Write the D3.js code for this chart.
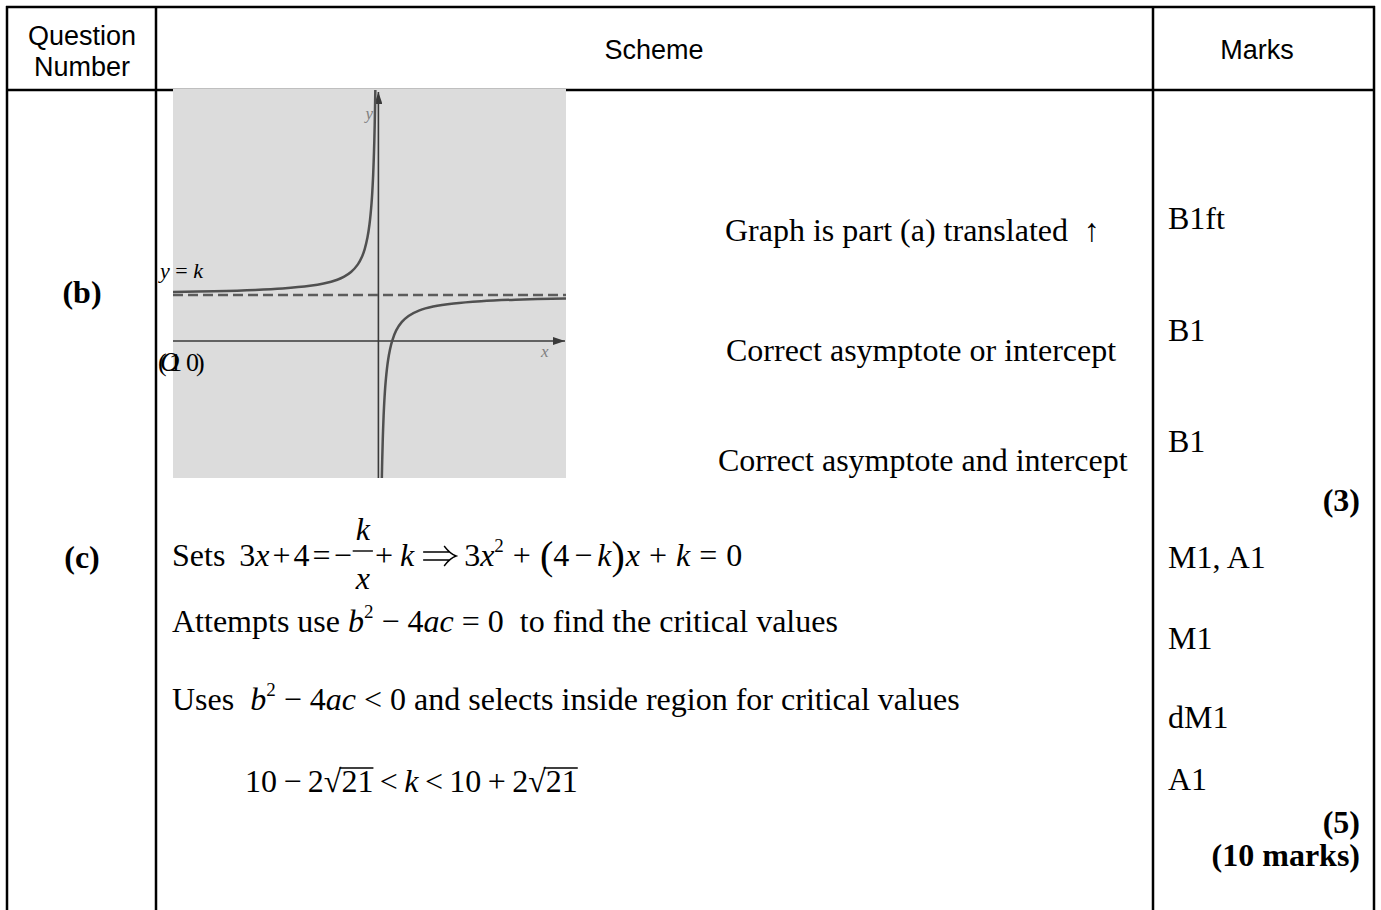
<!DOCTYPE html>
<html>
<head>
<meta charset="utf-8">
<script src="https://cdn.jsdelivr.net/npm/d3@7"></script>
<style>
  body { margin: 0; background: #fff; }
  text { white-space: pre; }
</style>
</head>
<body>
<script>
// ---- data ----
const headers = ['Scheme', 'Marks']
const questionHeader = ['Question', 'Number']
const parts = ['(b)', '(c)']

const schemeB = ['Graph is part (a) translated  \u2191', 'Correct asymptote or intercept', 'Correct asymptote and intercept']
const marksB = ['B1ft', 'B1', 'B1']
const marksC = ['M1, A1', 'M1', 'dM1', 'A1']
const totals = ['(3)', '(5)', '(10 marks)']

// y = k - k/x sketch (k = 1)
const leftX = [-15, -12, -9, -7, -5, -4, -3, -2.5, -2, -1.5, -1.2, -1, -0.8, -0.65, -0.5, -0.4, -0.32, -0.27, -0.224]
const leftY = [1.067, 1.083, 1.111, 1.143, 1.2, 1.25, 1.333, 1.4, 1.5, 1.667, 1.833, 2.0, 2.25, 2.54, 3.0, 3.5, 4.13, 4.7, 5.46]
const rightX = [0.251, 0.28, 0.32, 0.38, 0.45, 0.55, 0.7, 0.85, 1, 1.3, 1.7, 2.2, 3, 4, 5.5, 7.5, 10, 13.7]
const rightY = [-2.98, -2.57, -2.13, -1.63, -1.22, -0.82, -0.43, -0.18, 0, 0.23, 0.41, 0.545, 0.667, 0.75, 0.818, 0.867, 0.9, 0.927]
const asymK = 1

const w = 1381
const h = 910
const serif = '"Liberation Serif", "Times New Roman", serif'
const sans = '"Liberation Sans", Arial, sans-serif'
const bodySize = 32

const svg = d3.select('body')
  .append('svg')
  .attr('width', w)
  .attr('height', h)

// ---- table grid ----
const colEdges = [7, 156, 1153, 1374]
const rowEdges = [7, 90]

svg.selectAll('line.col')
  .data(colEdges)
  .enter()
  .append('line')
  .attr('x1', d => d).attr('x2', d => d)
  .attr('y1', 6).attr('y2', h)
  .attr('stroke', '#000').attr('stroke-width', 2.5)

svg.selectAll('line.row')
  .data(rowEdges)
  .enter()
  .append('line')
  .attr('x1', 6).attr('x2', 1375)
  .attr('y1', d => d).attr('y2', d => d)
  .attr('stroke', '#000').attr('stroke-width', 2.5)

// headers
svg.selectAll('text.qh')
  .data(questionHeader)
  .enter()
  .append('text')
  .attr('x', 82)
  .attr('y', (d, i) => 45 + i * 31)
  .attr('text-anchor', 'middle')
  .style('font-family', sans).style('font-size', '27px')
  .text(d => d)

svg.selectAll('text.hd')
  .data(headers)
  .enter()
  .append('text')
  .attr('x', (d, i) => i === 0 ? 654 : 1257)
  .attr('y', 59)
  .attr('text-anchor', 'middle')
  .style('font-family', sans).style('font-size', '27px')
  .text(d => d)

// part labels
svg.selectAll('text.part')
  .data(parts)
  .enter()
  .append('text')
  .attr('x', 82)
  .attr('y', (d, i) => i === 0 ? 303 : 568)
  .attr('text-anchor', 'middle')
  .style('font-family', serif).style('font-size', bodySize + 'px').style('font-weight', 'bold')
  .text(d => d)

// ---- graph ----
const gx = [173, 566]
const gy = [90, 478]
const xScale = d3.scaleLinear().domain([-15, 13.7]).range(gx)
const yScale = d3.scaleLinear().domain([-2.98, 5.46]).range([gy[1], gy[0]])

const graph = svg.append('g')
svg.append('clipPath').attr('id', 'gclip')
  .append('rect').attr('x', gx[0]).attr('y', gy[0] - 3).attr('width', gx[1] - gx[0]).attr('height', gy[1] - gy[0] + 3)

graph.append('rect')
  .attr('x', gx[0]).attr('y', gy[0] - 1)
  .attr('width', gx[1] - gx[0]).attr('height', gy[1] - gy[0] + 1)
  .attr('fill', '#dcdcdc')

svg.append('defs').append('marker')
  .attr('id', 'arr')
  .attr('viewBox', '0 0 12 8')
  .attr('refX', 12).attr('refY', 4)
  .attr('markerWidth', 12).attr('markerHeight', 8)
  .attr('markerUnits', 'userSpaceOnUse')
  .attr('orient', 'auto')
  .append('path').attr('d', 'M0,0L12,4L0,8Z').attr('fill', '#3a3a3a')

const xAxis = d3.axisBottom(xScale).ticks(0).tickSizeOuter(0)
const yAxis = d3.axisLeft(yScale).ticks(0).tickSizeOuter(0)

const xg = graph.append('g')
  .attr('transform', `translate(0, ${yScale(0)})`)
  .call(xAxis)
xg.select('.domain').attr('stroke', '#3a3a3a').attr('stroke-width', 1.6)
  .attr('d', `M${gx[0]},0H${gx[1] - 1}`).attr('marker-end', 'url(#arr)')

const yg = graph.append('g')
  .attr('transform', `translate(${xScale(0)}, 0)`)
  .call(yAxis)
yg.select('.domain').attr('stroke', '#3a3a3a').attr('stroke-width', 1.6)
  .attr('d', `M0,${gy[1]}V${gy[0] + 2}`).attr('marker-end', 'url(#arr)')

// asymptote
graph.append('line')
  .attr('x1', gx[0]).attr('x2', gx[1])
  .attr('y1', yScale(asymK)).attr('y2', yScale(asymK))
  .attr('stroke', '#5c5c5c').attr('stroke-width', 2.6)
  .attr('stroke-dasharray', '10,5')

const line = d3.line()
  .x(d => xScale(d[0]))
  .y(d => yScale(d[1]))
  .curve(d3.curveCatmullRom.alpha(0.5))

const branches = [
  leftX.map((v, i) => [v, leftY[i]]),
  rightX.map((v, i) => [v, rightY[i]])
]
graph.selectAll('path.branch')
  .data(branches)
  .enter()
  .append('path')
  .attr('class', 'branch')
  .attr('d', line)
  .attr('fill', 'none')
  .attr('stroke', '#505050')
  .attr('stroke-width', 2.5)
  .attr('clip-path', 'url(#gclip)')

graph.append('text')
  .attr('x', xScale(0) - 13).attr('y', 119)
  .style('font-family', serif).style('font-size', '17px').style('font-style', 'italic')
  .attr('fill', '#808080').text('y')
graph.append('text')
  .attr('x', 541).attr('y', 357)
  .style('font-family', serif).style('font-size', '17px').style('font-style', 'italic')
  .attr('fill', '#808080').text('x')

// y = k label
const yk = svg.append('text').attr('x', 160).attr('y', 278)
  .style('font-family', serif).style('font-size', '22px')
yk.append('tspan').style('font-style', 'italic').text('y')
yk.append('tspan').text(' = ')
yk.append('tspan').style('font-style', 'italic').text('k')

// overlapping "(1, 0)" and "O" as in the source
const pt = [['(', 158], ['1', 169], ['0', 186], [')', 196]]
svg.selectAll('text.pt')
  .data(pt)
  .enter()
  .append('text')
  .attr('x', d => d[1]).attr('y', 371)
  .style('font-family', serif).style('font-size', '26px')
  .text(d => d[0])
svg.append('text').attr('x', 160).attr('y', 371)
  .style('font-family', serif).style('font-size', '27px').style('font-style', 'italic')
  .text('O')

// ---- scheme text (b) ----
svg.selectAll('text.sb')
  .data(schemeB)
  .enter()
  .append('text')
  .attr('x', (d, i) => [725, 726, 718][i])
  .attr('y', (d, i) => [241, 361, 471][i])
  .style('font-family', serif).style('font-size', bodySize + 'px')
  .text(d => d)

// ---- marks ----
svg.selectAll('text.mb')
  .data(marksB)
  .enter()
  .append('text')
  .attr('x', 1168)
  .attr('y', (d, i) => [229, 341, 452][i])
  .style('font-family', serif).style('font-size', bodySize + 'px')
  .text(d => d)

svg.selectAll('text.mc')
  .data(marksC)
  .enter()
  .append('text')
  .attr('x', 1168)
  .attr('y', (d, i) => [568, 649, 728, 790][i])
  .style('font-family', serif).style('font-size', bodySize + 'px')
  .text(d => d)

svg.selectAll('text.tot')
  .data(totals)
  .enter()
  .append('text')
  .attr('x', 1360)
  .attr('y', (d, i) => [511, 833, 866][i])
  .attr('text-anchor', 'end')
  .style('font-family', serif).style('font-size', bodySize + 'px').style('font-weight', 'bold')
  .text(d => d)

// ---- math lines for (c) ----
function mathLine(x0, y0, segs) {
  let x = x0
  segs.forEach(s => {
    if (s.frac) {
      const num = svg.append('text').attr('y', y0 - 26)
        .style('font-family', serif).style('font-size', bodySize + 'px').style('font-style', 'italic').text(s.frac[0])
      const den = svg.append('text').attr('y', y0 + 23)
        .style('font-family', serif).style('font-size', bodySize + 'px').style('font-style', 'italic').text(s.frac[1])
      const bw = Math.max(num.node().getComputedTextLength(), den.node().getComputedTextLength()) + 6
      num.attr('x', x + bw / 2).attr('text-anchor', 'middle')
      den.attr('x', x + bw / 2).attr('text-anchor', 'middle')
      svg.append('line').attr('x1', x).attr('x2', x + bw)
        .attr('y1', y0 - 15).attr('y2', y0 - 15)
        .attr('stroke', '#000').attr('stroke-width', 1.4)
      x += bw + (s.gap || 0)
      return
    }
    if (s.implies) {
      // thin double arrow like the Times glyph
      const aw = 34, my = y0 - 10
      svg.append('path')
        .attr('d', `M${x + 1},${my - 4}H${x + aw - 7}M${x + 1},${my + 4}H${x + aw - 7}M${x + aw - 12},${my - 10}Q${x + aw - 6},${my - 2} ${x + aw},${my}Q${x + aw - 6},${my + 2} ${x + aw - 12},${my + 10}`)
        .attr('fill', 'none').attr('stroke', '#000').attr('stroke-width', 1.4)
      x += aw + (s.gap || 0)
      return
    }
    const size = s.sup ? 19 : (s.size || bodySize)
    const ty = y0 + (s.sup ? -14 : 0) + (s.dy || 0)
    const t = svg.append('text')
      .attr('x', x).attr('y', ty)
      .style('font-family', serif)
      .style('font-size', size + 'px')
      .style('font-style', s.it ? 'italic' : 'normal')
      .text(s.t)
    const tw = t.node().getComputedTextLength()
    if (s.over) {
      svg.append('line').attr('x1', x - 2).attr('x2', x + tw)
        .attr('y1', y0 - 24).attr('y2', y0 - 24)
        .attr('stroke', '#000').attr('stroke-width', 1.4)
    }
    x += tw + (s.gap || 0)
  })
}

mathLine(172, 566, [
  { t: 'Sets', gap: 14 }, { t: '3' }, { t: 'x', it: true, gap: 3 }, { t: '+', gap: 3 }, { t: '4', gap: 3 },
  { t: '=', gap: 3 }, { t: '\u2212', gap: 1 },
  { frac: ['k', 'x'], gap: 2 },
  { t: '+', gap: 7 }, { t: 'k', it: true, gap: 8 }, { implies: true, gap: 8 },
  { t: '3' }, { t: 'x', it: true }, { t: '2', sup: true, gap: 9 },
  { t: '+', gap: 9 }, { t: '(', size: 40, dy: 3 }, { t: '4', gap: 5 }, { t: '\u2212', gap: 5 },
  { t: 'k', it: true }, { t: ')', size: 40, dy: 3, gap: 1 },
  { t: 'x', it: true, gap: 9 }, { t: '+', gap: 9 }, { t: 'k', it: true, gap: 9 }, { t: '=', gap: 9 }, { t: '0' }
])

mathLine(172, 632, [
  { t: 'Attempts use ' }, { t: 'b', it: true }, { t: '2', sup: true }, { t: ' \u2212 4' },
  { t: 'ac', it: true }, { t: ' = 0  to find the critical values' }
])

mathLine(172, 710, [
  { t: 'Uses  ' }, { t: 'b', it: true }, { t: '2', sup: true }, { t: ' \u2212 4' },
  { t: 'ac', it: true }, { t: ' < 0 and selects inside region for critical values' }
])

mathLine(245, 792, [
  { t: '10\u2009\u2212\u20092' }, { t: '\u221A' }, { t: '21', over: true }, { t: '\u2009<\u2009' }, { t: 'k', it: true },
  { t: '\u2009<\u200910\u2009+\u20092' }, { t: '\u221A' }, { t: '21', over: true }
])
</script>
</body>
</html>
